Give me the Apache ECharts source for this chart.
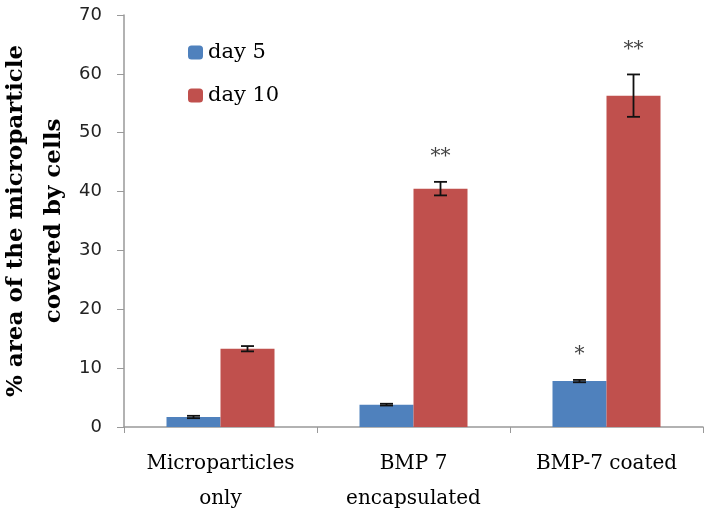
<!DOCTYPE html>
<html>
<head>
<meta charset="utf-8">
<script src="https://cdn.jsdelivr.net/npm/echarts@6/dist/echarts.min.js"></script>
<style>
  html, body { margin: 0; padding: 0; background: #fff; }
  #chart { width: 711px; height: 519px; }
</style>
</head>
<body>
<div id="chart"></div>
<script>
const categories = ["Microparticles\nonly", "BMP 7\nencapsulated", "BMP-7 coated"];
const day5 = [1.7, 3.8, 7.8];
const day10 = [13.3, 40.5, 56.3];
const err5 = [0.2, 0.15, 0.2];
const err10 = [0.45, 1.15, 3.6];
const sig5 = ["", "", "*"];
const sig10 = ["", "**", "**"];

const BAR_W = 54;
const serif = "'DejaVu Serif', serif";

// error bar + significance marker, shifted onto its bar
function errorSeries(name, values, errs, sigs, offset) {
    return {
        name: name + " err",
        type: "custom",
        z: 5,
        data: values.map((v, i) => [i, v, errs[i], sigs[i]]),
        renderItem: function (params, api) {
            const x = api.coord([api.value(0), 0])[0] + offset;
            const v = api.value(1);
            const e = api.value(2);
            const top = api.coord([api.value(0), v + e])[1];
            const bot = api.coord([api.value(0), v - e])[1];
            const cap = 6.5;
            const style = { stroke: "#111", lineWidth: 1.8 };
            return {
                type: "group",
                children: [
                    { type: "line", shape: { x1: x, y1: top, x2: x, y2: bot }, style: style },
                    { type: "line", shape: { x1: x - cap, y1: top, x2: x + cap, y2: top }, style: style },
                    { type: "line", shape: { x1: x - cap, y1: bot, x2: x + cap, y2: bot }, style: style },
                    {
                        type: "text",
                        x: x,
                        y: top - 15,
                        style: {
                            text: api.value(3) || "",
                            fill: "#444",
                            font: "20px " + serif,
                            align: "center",
                            verticalAlign: "bottom",
                        },
                    },
                ],
            };
        },
    };
}

const chart = echarts.init(document.getElementById("chart"));
chart.setOption({
    animation: false,
    grid: { left: 124, right: 8, top: 15, bottom: 92, outerBoundsMode: "none" },
    legend: {
        data: ["day 5", "day 10"],
        orient: "vertical",
        left: 183,
        top: 37,
        itemWidth: 15,
        itemHeight: 14,
        itemGap: 22,
        textStyle: { fontFamily: serif, fontSize: 21, color: "#000" },
    },
    xAxis: {
        type: "category",
        data: categories,
        axisLine: { lineStyle: { color: "#999", width: 1.5 } },
        axisTick: { show: true, length: 6, lineStyle: { color: "#999" } },
        axisLabel: {
            fontFamily: serif,
            fontSize: 20,
            color: "#000",
            margin: 19,
            lineHeight: 35,
        },
    },
    yAxis: {
        type: "value",
        min: 0,
        max: 70,
        interval: 10,
        name: "% area of the microparticle\ncovered by cells",
        nameLocation: "middle",
        nameRotate: 90,
        nameGap: 51,
        nameMoveOverlap: false,
        nameTextStyle: {
            fontFamily: serif,
            fontSize: 23,
            fontWeight: "bold",
            color: "#000",
            lineHeight: 38,
        },
        splitLine: { show: false },
        axisLine: { show: true, lineStyle: { color: "#999", width: 1.5 } },
        axisTick: { show: true, length: 7, lineStyle: { color: "#999" } },
        axisLabel: {
            fontFamily: "'DejaVu Sans', sans-serif",
            fontSize: 18,
            color: "#222",
            margin: 22,
        },
    },
    series: [
        {
            name: "day 5",
            type: "bar",
            data: day5,
            barWidth: BAR_W,
            barGap: "0%",
            itemStyle: { color: "#4F81BD" },
        },
        {
            name: "day 10",
            type: "bar",
            data: day10,
            barWidth: BAR_W,
            barGap: "0%",
            itemStyle: { color: "#C0504D" },
        },
        errorSeries("day 5", day5, err5, sig5, -BAR_W / 2),
        errorSeries("day 10", day10, err10, sig10, BAR_W / 2),
    ],
});
</script>
</body>
</html>
